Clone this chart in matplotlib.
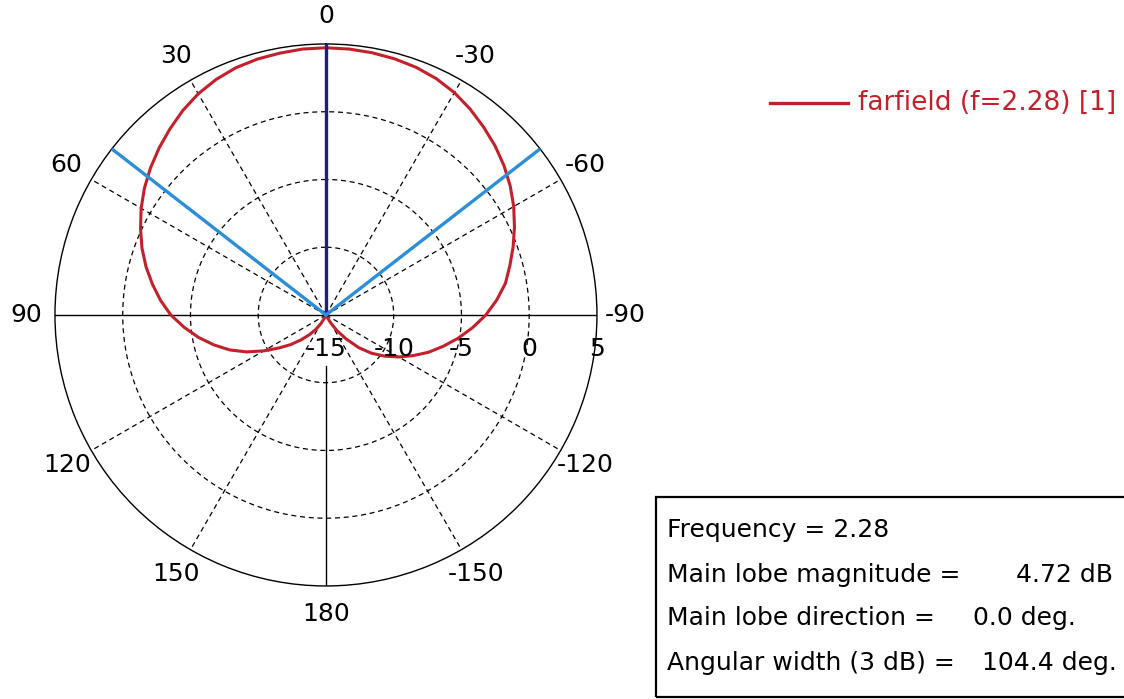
import numpy as np
import matplotlib
matplotlib.use("Agg")
import matplotlib.pyplot as plt
from matplotlib.lines import Line2D
from matplotlib.patches import Rectangle

plt.rcParams['font.family'] = ['DejaVu Sans']

# farfield cut, angle in deg (positive = counter-clockwise from top), gain in dB
theta_deg = [-180, -170, -160, -155, -150, -145, -140, -135, -130, -125, -120, -115,
             -110, -105, -100, -95, -90, -85, -80, -75, -70, -65, -60, -55,
             -50, -45, -40, -35, -30, -25, -20, -15, -10, -5, 0,
             5, 10, 15, 20, 25, 30, 35, 40, 45, 50, 55, 60,
             65, 70, 75, 80, 85, 90, 95, 100, 105, 110, 115, 120,
             125, 130, 135, 140, 145, 150, 155, 160, 170, 180]
gain_db = [-15.0, -15.0, -15.0, -15.0, -14.4, -13.6, -12.7, -11.6, -10.6, -9.7, -8.8, -7.9,
           -6.95, -6.05, -5.1, -4.15, -3.2, -2.35, -1.55, -0.95, -0.3, 0.35, 1.0, 1.6,
           2.15, 2.65, 3.1, 3.55, 3.95, 4.25, 4.45, 4.57, 4.65, 4.70, 4.72,
           4.70, 4.62, 4.55, 4.42, 4.18, 3.85, 3.42, 2.92, 2.42, 1.9, 1.35, 0.75,
           0.1, -0.55, -1.25, -2.0, -2.75, -3.55, -4.5, -5.45, -6.45, -7.45, -8.55, -9.7,
           -10.75, -11.6, -12.4, -13.1, -13.7, -14.3, -14.8, -15.0, -15.0, -15.0]

r_ticks = [-15, -10, -5, 0, 5]
theta_ticks = [0, 30, 60, 90, 120, 150, 180, -150, -120, -90, -60, -30]

freq = 2.28
main_mag = 4.72
main_dir = 0.0
width_3db = 104.4

red = '#c4202c'
navy = '#1c1c8a'
blue = '#2c8ed8'
fs = 18

fig = plt.figure(figsize=(11.24, 6.99), dpi=100)
ax = fig.add_axes([0.0489, 0.1617, 0.4822, 0.7754], projection='polar')
ax.set_theta_zero_location('N')
ax.set_theta_direction(1)
ax.set_rlim(r_ticks[0], r_ticks[-1])
ax.grid(False)
ax.set_xticks([])
ax.set_yticks([])
ax.spines['polar'].set_linewidth(1.0)
ax.spines['polar'].set_color('black')

# dashed grid circles
circ = np.linspace(0, 2 * np.pi, 721)
for rv in r_ticks[1:-1]:
    ax.plot(circ, np.full_like(circ, rv), color='black', lw=0.9, dashes=(4, 3))

# dashed radial grid lines
for a in theta_ticks:
    if a % 90 != 0:
        ax.plot([np.deg2rad(a)] * 2, [r_ticks[0], r_ticks[-1]], color='black', lw=0.9, dashes=(4, 3))

# solid axes
ax.plot([np.deg2rad(90)] * 2, [r_ticks[0], r_ticks[-1]], color='black', lw=1.0)
ax.plot([np.deg2rad(-90)] * 2, [r_ticks[0], r_ticks[-1]], color='black', lw=1.0)
ax.plot([np.pi] * 2, [-11.2, r_ticks[-1]], color='black', lw=1.0)

# pattern
ax.plot(np.deg2rad(theta_deg), gain_db, color=red, lw=2.2, zorder=3)

# main lobe direction and 3 dB width
ax.plot([np.deg2rad(main_dir)] * 2, [r_ticks[0], r_ticks[-1]], color=navy, lw=2.4, zorder=4)
for s in (1, -1):
    ax.plot([np.deg2rad(main_dir + s * width_3db / 2)] * 2, [r_ticks[0], r_ticks[-1]],
            color=blue, lw=2.4, zorder=4)

# angle labels
for a in theta_ticks:
    ax.text(np.deg2rad(a), 7.1, str(a), ha='center', va='center', fontsize=fs, clip_on=False)

# radial labels
for rv in r_ticks:
    ax.annotate(str(rv), xy=(np.deg2rad(-90), rv), xytext=(0, -34), textcoords='offset pixels',
                ha='center', va='center', fontsize=fs, annotation_clip=False)

# legend
ly = 1 - 103 / 699
fig.add_artist(Line2D([770 / 1124, 848 / 1124], [ly, ly], color=red, lw=2.4))
fig.text(858 / 1124, ly, f'farfield (f={freq}) [1]', color=red, fontsize=19, va='center')

# info box
fig.add_artist(Rectangle((656 / 1124, 1 - 697 / 699), 500 / 1124, 200 / 699,
                         fill=False, edgecolor='black', lw=1.6, transform=fig.transFigure))
x0 = 667 / 1124
fig.text(x0, 1 - 530 / 699, f'Frequency = {freq}', fontsize=fs, va='center')
fig.text(x0, 1 - 575 / 699, 'Main lobe magnitude =', fontsize=fs, va='center')
fig.text(1113 / 1124, 1 - 575 / 699, f'{main_mag} dB', fontsize=fs, va='center', ha='right')
fig.text(x0, 1 - 618 / 699, 'Main lobe direction =', fontsize=fs, va='center')
fig.text(973 / 1124, 1 - 618 / 699, f'{main_dir} deg.', fontsize=fs, va='center')
fig.text(x0, 1 - 663 / 699, 'Angular width (3 dB) =', fontsize=fs, va='center')
fig.text(982 / 1124, 1 - 663 / 699, f'{width_3db} deg.', fontsize=fs, va='center')

fig.savefig('out.png', dpi=100, facecolor='white')
